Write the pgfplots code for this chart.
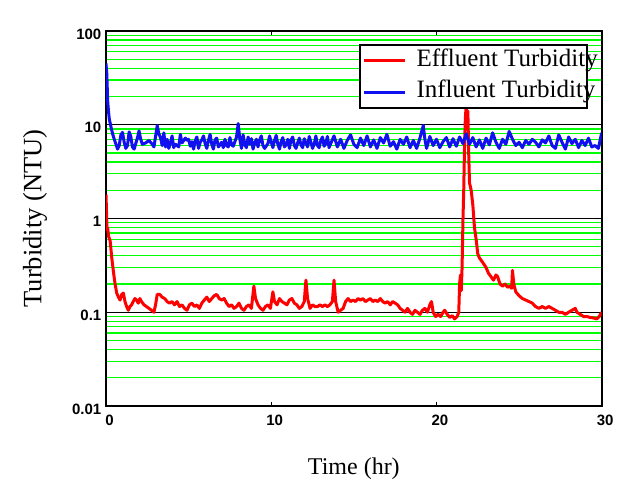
\documentclass[border=0pt]{standalone}
\usepackage{pgfplots}
\pgfplotsset{compat=1.18}
\usepackage{fontspec}
\setmainfont{Liberation Serif}
\setsansfont{Liberation Sans}
\definecolor{gridgreen}{RGB}{0,255,0}
\definecolor{effred}{RGB}{255,0,0}
\definecolor{infblue}{RGB}{16,16,240}
\begin{document}
\begin{tikzpicture}
\path[use as bounding box] (-106bp,-91bp) rectangle (528bp,406bp);
\begin{axis}[
  at={(0,0)}, anchor=south west,
  scale only axis, width=495.7bp, height=375bp,
  ymode=log, log basis y=10,
  xmin=0, xmax=30, ymin=0.01, ymax=100,
  xtick={0,10,20,30}, xticklabels={0,10,20,30},
  ytick={0.01,0.1,1,10,100}, yticklabels={0.01,0.1,1,10,100},
  minor ytick={0.02,0.03,0.04,0.05,0.06,0.07,0.08,0.09,0.2,0.3,0.4,0.5,0.6,0.7,0.8,0.9,2,3,4,5,6,7,8,9,20,30,40,50,60,70,80,90},
  ymajorgrids, yminorgrids,
  major grid style={black, line width=0.9bp},
  minor grid style={gridgreen, line width=1.2bp},
  axis line style={line width=1.8bp, black},
  tick align=inside,
  major tick length=4bp, minor tick length=0pt,
  ytick style={draw=none},
  xtick style={line width=1.2bp, black},
  ticklabel style={font=\sffamily\bfseries\fontsize{15bp}{15bp}\selectfont, inner sep=0pt},
  yticklabel style={xshift=-4.5bp, yshift=-3bp},
  xticklabel style={yshift=-9bp, xshift=3.5bp},
  xlabel={Time (hr)}, ylabel={Turbidity (NTU)},
  xlabel style={at={(axis description cs:0.5,-0.168)}, anchor=center, font=\fontsize{24bp}{28bp}\selectfont},
  ylabel style={at={(axis description cs:-0.1432,0.5)}, anchor=center, font=\fontsize{26.5bp}{30bp}\selectfont},
  legend cell align=left,
  legend style={at={(rel axis cs:0.972,0.9645)}, anchor=north east,
    draw=black, line width=1.6bp, fill=white,
    font=\fontsize{25bp}{29bp}\selectfont,
    inner xsep=2.5bp, inner ysep=5bp, row sep=10.7bp, column sep=10bp,
    nodes={inner sep=0pt, text height=16bp, text depth=5bp}},
  legend image code/.code={\draw[#1] (0bp,0bp) -- (41bp,0bp);},
  every axis plot/.append style={line join=round},
]
\addplot[effred, line width=3bp] coordinates {
(0.0,1.8) (0.03,1.2) (0.06,0.75) (0.1,0.8) (0.15,0.65) (0.25,0.58) (0.35,0.38) (0.45,0.27) (0.55,0.2) (0.65,0.16)
(0.75,0.145) (0.85,0.135) (0.95,0.155) (1.05,0.16) (1.15,0.13) (1.25,0.115) (1.35,0.105) (1.45,0.115) (1.55,0.12) (1.65,0.13)
(1.75,0.14) (1.85,0.135) (1.95,0.125) (2.05,0.14) (2.15,0.13) (2.3,0.12) (2.45,0.115) (2.6,0.11) (2.75,0.105) (2.9,0.1)
(3.0,0.12) (3.1,0.155) (3.25,0.155) (3.4,0.145) (3.55,0.14) (3.7,0.13) (3.85,0.125) (4.0,0.13) (4.15,0.12) (4.3,0.13)
(4.45,0.115) (4.6,0.12) (4.75,0.11) (4.9,0.105) (5.05,0.12) (5.2,0.125) (5.35,0.115) (5.5,0.12) (5.65,0.11) (5.8,0.125)
(5.95,0.135) (6.1,0.145) (6.25,0.13) (6.4,0.14) (6.55,0.15) (6.7,0.155) (6.85,0.14) (7.0,0.135) (7.15,0.14) (7.3,0.125)
(7.45,0.115) (7.6,0.12) (7.75,0.11) (7.9,0.115) (8.05,0.125) (8.2,0.11) (8.35,0.105) (8.5,0.115) (8.65,0.12) (8.8,0.11)
(8.95,0.19) (9.05,0.14) (9.2,0.12) (9.35,0.11) (9.5,0.105) (9.65,0.115) (9.8,0.12) (9.95,0.11) (10.1,0.165) (10.2,0.13)
(10.35,0.12) (10.5,0.14) (10.65,0.13) (10.8,0.125) (10.95,0.12) (11.1,0.135) (11.25,0.14) (11.4,0.125) (11.55,0.12) (11.7,0.11)
(11.85,0.115) (12.0,0.13) (12.1,0.22) (12.2,0.14) (12.35,0.11) (12.5,0.12) (12.65,0.115) (12.8,0.115) (12.95,0.12) (13.1,0.115)
(13.25,0.12) (13.4,0.115) (13.55,0.12) (13.7,0.13) (13.8,0.22) (13.9,0.13) (14.05,0.1) (14.2,0.105) (14.35,0.11) (14.5,0.13)
(14.65,0.14) (14.8,0.13) (14.95,0.135) (15.1,0.13) (15.25,0.14) (15.4,0.135) (15.55,0.14) (15.7,0.13) (15.85,0.135) (16.0,0.14)
(16.15,0.13) (16.3,0.135) (16.45,0.13) (16.6,0.14) (16.75,0.13) (16.9,0.125) (17.05,0.13) (17.2,0.12) (17.35,0.13) (17.5,0.125)
(17.65,0.12) (17.8,0.11) (17.95,0.105) (18.1,0.1) (18.25,0.11) (18.4,0.1) (18.55,0.095) (18.7,0.105) (18.85,0.1) (19.0,0.095)
(19.15,0.105) (19.3,0.11) (19.45,0.1) (19.6,0.12) (19.7,0.13) (19.8,0.1) (19.95,0.09) (20.1,0.095) (20.25,0.09) (20.4,0.1)
(20.5,0.105) (20.65,0.095) (20.8,0.088) (20.95,0.092) (21.1,0.085) (21.25,0.09) (21.35,0.1) (21.4,0.2) (21.45,0.25) (21.5,0.17)
(21.55,0.3) (21.6,0.9) (21.65,2.0) (21.7,6.0) (21.75,12) (21.8,16) (21.85,10) (21.9,14) (21.95,5) (22.0,2.4)
(22.1,2.0) (22.2,1.4) (22.3,0.8) (22.4,0.6) (22.5,0.42) (22.6,0.38) (22.8,0.34) (23.0,0.3) (23.15,0.26) (23.3,0.24)
(23.45,0.22) (23.6,0.25) (23.7,0.24) (23.85,0.2) (24.0,0.19) (24.15,0.2) (24.3,0.185) (24.45,0.19) (24.55,0.18) (24.6,0.28)
(24.68,0.2) (24.8,0.165) (25.0,0.15) (25.2,0.14) (25.4,0.135) (25.6,0.13) (25.8,0.125) (26.0,0.115) (26.2,0.11) (26.4,0.115)
(26.6,0.11) (26.8,0.115) (27.0,0.11) (27.2,0.105) (27.4,0.1) (27.6,0.1) (27.8,0.095) (28.0,0.1) (28.2,0.105) (28.4,0.11)
(28.5,0.1) (28.7,0.095) (28.9,0.09) (29.1,0.09) (29.3,0.088) (29.5,0.087) (29.7,0.085) (29.85,0.09) (30.0,0.1)
};
\addlegendentry{\makebox[168bp][l]{Effluent Turbidity}}
\addplot[infblue, line width=3bp] coordinates {
(0.0,45) (0.05,35) (0.1,18) (0.15,14) (0.2,11.5) (0.3,9.5) (0.4,8) (0.5,7) (0.6,6.2) (0.7,5.5)
(0.8,6.0) (0.9,7.8) (1.0,8.3) (1.1,6.5) (1.2,5.6) (1.3,6.0) (1.4,8.4) (1.5,7.5) (1.6,5.8) (1.7,5.5)
(1.8,6.3) (1.9,7.2) (2.0,8.6) (2.1,7.0) (2.2,6.2) (2.4,6.4) (2.6,6.8) (2.8,6.2) (2.9,5.8) (3.0,7.5)
(3.1,9.8) (3.2,8.0) (3.3,7.3) (3.4,6.0) (3.5,8.2) (3.6,5.8) (3.7,7.0) (3.8,5.6) (3.9,6.4) (4.0,7.6)
(4.1,5.7) (4.2,6.2) (4.4,5.8) (4.5,7.9) (4.6,6.4) (4.8,7.2) (4.9,6.8) (5.0,7.0) (5.1,5.9) (5.2,6.6)
(5.3,5.5) (5.4,6.8) (5.5,7.4) (5.6,5.6) (5.7,6.5) (5.8,6.9) (5.9,7.6) (6.0,6.3) (6.1,5.6) (6.2,6.8)
(6.3,7.9) (6.4,6.2) (6.5,5.5) (6.6,6.9) (6.7,7.2) (6.8,5.8) (6.9,6.1) (7.0,6.5) (7.1,5.7) (7.2,7.0)
(7.3,6.0) (7.4,5.8) (7.5,7.3) (7.6,6.1) (7.7,5.9) (7.8,6.6) (7.9,7.4) (8.0,10.3) (8.1,7.0) (8.2,5.6)
(8.3,7.8) (8.4,6.1) (8.5,5.7) (8.6,7.4) (8.7,6.2) (8.8,7.1) (8.9,5.5) (9.0,6.4) (9.1,7.0) (9.2,5.8)
(9.3,6.9) (9.4,7.6) (9.5,6.0) (9.6,5.6) (9.8,6.3) (9.9,7.6) (10.0,6.5) (10.1,5.7) (10.2,6.8) (10.3,7.7)
(10.4,6.2) (10.5,5.5) (10.6,6.6) (10.7,7.3) (10.8,5.8) (10.9,6.1) (11.0,7.0) (11.1,5.6) (11.2,6.9) (11.3,7.4)
(11.4,6.0) (11.5,5.6) (11.6,6.4) (11.7,7.2) (11.8,6.1) (11.9,5.7) (12.0,7.1) (12.1,6.4) (12.2,5.8) (12.3,7.5)
(12.4,6.5) (12.5,5.6) (12.6,6.2) (12.7,7.6) (12.8,6.0) (12.9,5.7) (13.0,6.8) (13.1,7.4) (13.2,5.9) (13.3,6.3)
(13.4,7.5) (13.5,5.7) (13.6,6.3) (13.8,7.6) (14.0,5.8) (14.2,7.0) (14.4,5.6) (14.6,6.8) (14.8,7.8) (15.0,6.2)
(15.2,5.7) (15.4,7.2) (15.6,6.0) (15.8,7.6) (16.0,5.8) (16.2,6.9) (16.4,5.6) (16.6,7.3) (16.8,6.4) (17.0,7.9)
(17.2,5.9) (17.4,6.6) (17.6,5.5) (17.8,7.0) (18.0,6.2) (18.2,7.4) (18.4,5.7) (18.6,6.8) (18.8,5.6) (19.0,7.2)
(19.2,9.8) (19.3,7.0) (19.4,5.6) (19.6,7.5) (19.8,6.0) (20.0,7.0) (20.2,5.7) (20.4,6.6) (20.6,7.3) (20.8,5.8)
(21.0,7.1) (21.2,5.9) (21.4,7.4) (21.6,6.3) (21.8,8.0) (22.0,6.2) (22.2,7.3) (22.4,5.8) (22.6,6.9) (22.8,5.6)
(23.0,7.2) (23.2,6.1) (23.4,8.2) (23.6,6.5) (23.8,5.6) (24.0,7.0) (24.2,6.2) (24.4,8.5) (24.6,7.0) (24.8,6.0)
(25.0,6.5) (25.2,5.7) (25.4,6.8) (25.6,6.2) (25.8,7.0) (26.0,6.5) (26.2,5.8) (26.4,6.9) (26.6,6.4) (26.8,7.6)
(27.0,6.0) (27.2,5.6) (27.4,7.8) (27.6,6.5) (27.8,5.5) (28.0,7.4) (28.2,6.3) (28.4,7.0) (28.6,5.7) (28.8,6.8)
(29.0,6.0) (29.2,7.2) (29.4,5.8) (29.6,6.0) (29.8,5.6) (30.0,8.2)
};
\addlegendentry{\makebox[168bp][l]{Influent Turbidity}}
\end{axis}
\end{tikzpicture}
\end{document}
